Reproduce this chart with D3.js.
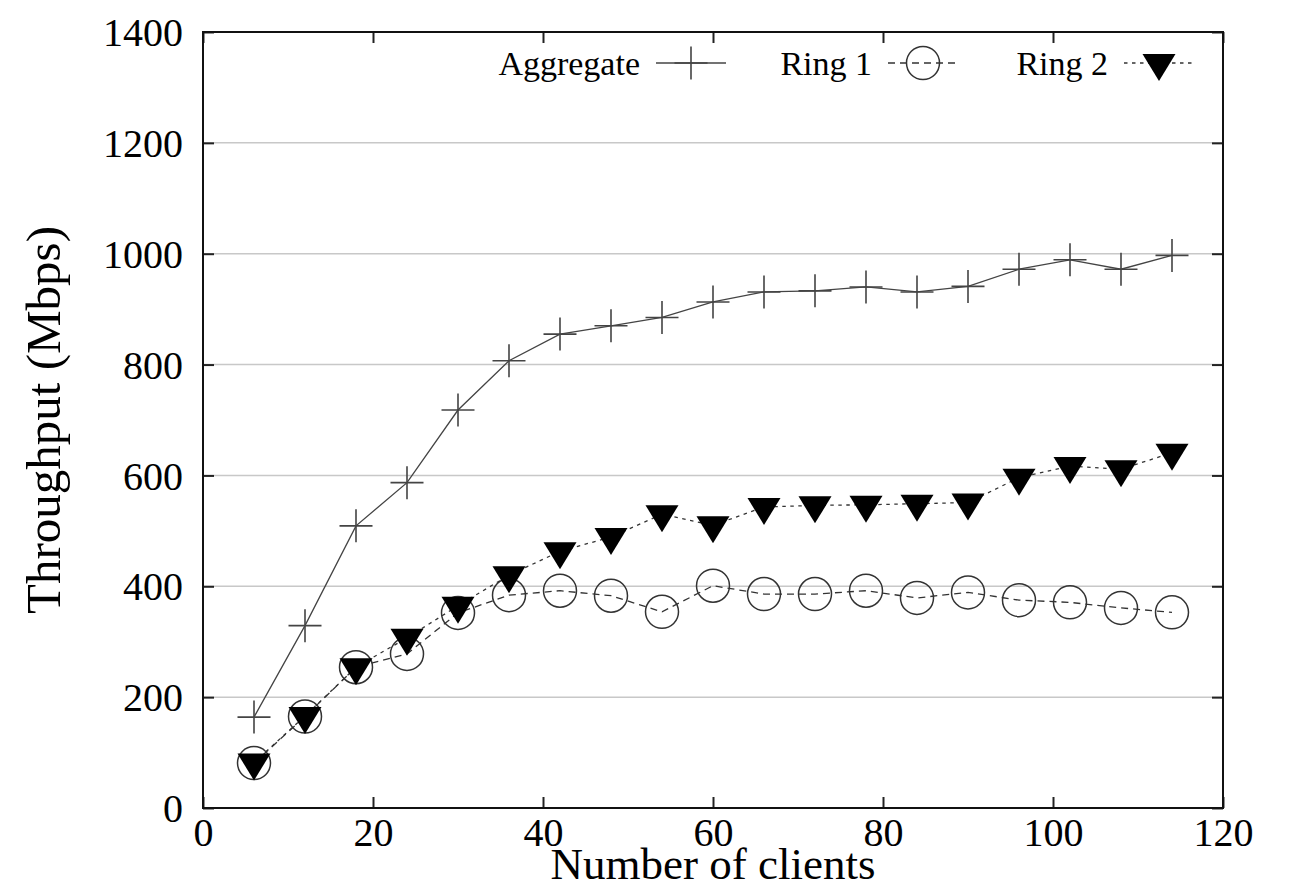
<!DOCTYPE html>
<html><head><meta charset="utf-8">
<script src="https://cdn.jsdelivr.net/npm/d3@7"></script>
<style>body{margin:0;background:#fff}svg{display:block}</style>
</head><body>
<script>
const clients = [6,12,18,24,30,36,42,48,54,60,66,72,78,84,90,96,102,108,114];
const aggregate = [164,329,509,587,718,807,855,870,885,913,931,933,940,931,941,972,989,972,997];
const ring1 = [81,165,254,278,352,384,392,383,354,401,386,386,392,379,389,375,371,361,353];
const ring2 = [82,166,254,307,365,420,463,489,530,510,543,546,547,549,551,596,617,611,641];
const xTicks = [0,20,40,60,80,100,120];
const yTicks = [0,200,400,600,800,1000,1200,1400];
const seriesNames = ["Aggregate","Ring 1","Ring 2"];

const W=1290,H=890;
const m={l:203,r:1223,t:32,b:808};
const svg=d3.select("body").append("svg").attr("width",W).attr("height",H);
const x=d3.scaleLinear().domain([0,120]).range([m.l,m.r]);
const y=d3.scaleLinear().domain([0,1400]).range([m.b,m.t]);
const font="'Liberation Serif','Times New Roman',serif";

// grid
svg.append("g").selectAll("line").data(yTicks.filter(d=>d>0&&d<1400)).join("line")
  .attr("x1",m.l).attr("x2",m.r).attr("y1",d=>y(d)).attr("y2",d=>y(d))
  .attr("stroke","#c8c8c8").attr("stroke-width",1.5);

// axes
const tl=11;
const gb=svg.append("g").attr("transform",`translate(0,${m.b})`)
  .call(d3.axisBottom(x).tickValues(xTicks).tickSize(-tl).tickPadding(10).tickFormat(d3.format("d")));
const gt=svg.append("g").attr("transform",`translate(0,${m.t})`)
  .call(d3.axisTop(x).tickValues(xTicks).tickSize(-tl).tickFormat(""));
const gl=svg.append("g").attr("transform",`translate(${m.l},0)`)
  .call(d3.axisLeft(y).tickValues(yTicks).tickSize(-tl).tickPadding(20).tickFormat(d3.format("d")));
const gr=svg.append("g").attr("transform",`translate(${m.r},0)`)
  .call(d3.axisRight(y).tickValues(yTicks).tickSize(-tl).tickFormat(""));
[gb,gt,gl,gr].forEach(g=>{
  g.select(".domain").remove();
  g.selectAll(".tick line").attr("stroke","#222").attr("stroke-width",2);
  g.selectAll("text").attr("font-family",font).attr("font-size",40).attr("fill","#000");
});
gb.selectAll("text").attr("dy","0.71em");
gl.selectAll("text").attr("dy","0.34em");
svg.append("rect").attr("x",m.l).attr("y",m.t).attr("width",m.r-m.l).attr("height",m.b-m.t)
  .attr("fill","none").attr("stroke","#111").attr("stroke-width",2);

// titles
svg.append("text").attr("x",(m.l+m.r)/2).attr("y",879).attr("text-anchor","middle")
  .attr("font-family",font).attr("font-size",45).text("Number of clients");
svg.append("text").attr("transform",`translate(60,${(m.t+m.b)/2}) rotate(-90)`).attr("text-anchor","middle")
  .attr("font-family",font).attr("font-size",49).text("Throughput (Mbps)");

// markers
const plusPath="M-16.5,0H16.5M0,-16.5V16.5";
const triPath="M-16.5,-9L16.5,-9L0,18Z";
function drawMarker(g,type,px,py){
  if(type==="plus") g.append("path").attr("d",plusPath).attr("transform",`translate(${px},${py})`)
    .attr("stroke","#444").attr("stroke-width",1.6).attr("fill","none");
  else if(type==="circle") g.append("circle").attr("cx",px).attr("cy",py).attr("r",16.5)
    .attr("fill","none").attr("stroke","#333").attr("stroke-width",1.5);
  else g.append("path").attr("d",triPath).attr("transform",`translate(${px},${py})`).attr("fill","#000");
}
const series=[
  {name:seriesNames[0],vals:aggregate,type:"plus",dash:null,color:"#444"},
  {name:seriesNames[1],vals:ring1,type:"circle",dash:"7,5",color:"#333"},
  {name:seriesNames[2],vals:ring2,type:"tri",dash:"3.5,4.5",color:"#333"}
];
const line=d3.line().x(d=>x(d[0])).y(d=>y(d[1]));
series.forEach(s=>{
  const pts=clients.map((c,i)=>[c,s.vals[i]]);
  svg.append("path").datum(pts).attr("d",line).attr("fill","none")
    .attr("stroke",s.color).attr("stroke-width",1.3).attr("stroke-dasharray",s.dash);
  const g=svg.append("g");
  pts.forEach(p=>drawMarker(g,s.type,x(p[0]),y(p[1])));
});

// legend
const legEnds=[640,872,1108];
series.forEach((s,i)=>{
  const tx=legEnds[i];
  svg.append("text").attr("x",tx).attr("y",75).attr("text-anchor","end")
    .attr("font-family",font).attr("font-size",34).text(s.name);
  const g=svg.append("g");
  g.append("line").attr("x1",tx+16).attr("x2",tx+86).attr("y1",63).attr("y2",63)
    .attr("stroke",s.color).attr("stroke-width",1.3).attr("stroke-dasharray",s.dash);
  drawMarker(g,s.type,tx+51,63);
});
</script>
</body></html>
